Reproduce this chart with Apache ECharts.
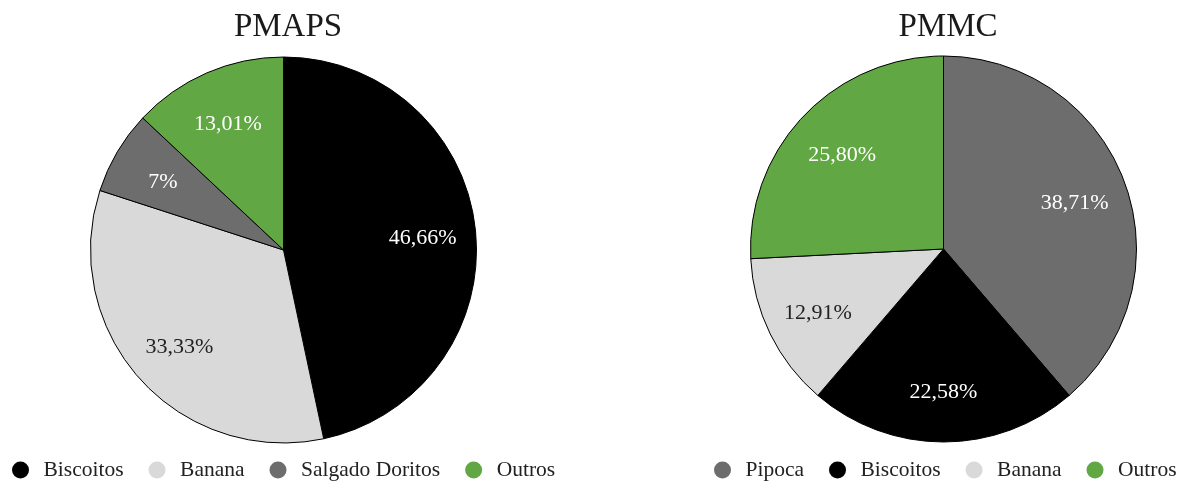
<!DOCTYPE html>
<html>
<head>
<meta charset="utf-8">
<style>
  html, body { margin: 0; padding: 0; background: #ffffff; }
  #chart { width: 1185px; height: 484px; }
</style>
<script src="https://cdn.jsdelivr.net/npm/echarts@6/dist/echarts.min.js"></script>
</head>
<body>
<div id="chart"></div>
<script>
// PMAPS
const pmapsCategories = ['Biscoitos', 'Banana', 'Salgado Doritos', 'Outros'];
const pmapsValues = [46.66, 33.33, 7, 13.01];
// PMMC
const pmmcCategories = ['Pipoca', 'Biscoitos', 'Banana', 'Outros'];
const pmmcValues = [38.71, 22.58, 12.91, 25.80];

const colorOf = {
  'Biscoitos': '#000000',
  'Banana': '#d9d9d9',
  'Salgado Doritos': '#6d6d6d',
  'Pipoca': '#6d6d6d',
  'Outros': '#61a743'
};
const labelColorOf = {
  'Biscoitos': '#ffffff',
  'Banana': '#222222',
  'Salgado Doritos': '#ffffff',
  'Pipoca': '#ffffff',
  'Outros': '#ffffff'
};

const FONT = 'Liberation Serif';

function fmt(v) {
  const s = Number.isInteger(v) ? String(v) : v.toFixed(2).replace('.', ',');
  return s + '%';
}

function slices(cats, vals) {
  return cats.map((c, i) => ({
    name: c,
    value: vals[i],
    itemStyle: { color: colorOf[c] }
  }));
}

function labelSlices(cats, vals) {
  return cats.map((c, i) => ({
    name: c,
    value: vals[i],
    label: { color: labelColorOf[c] }
  }));
}

function pieSeries(center, cats, vals) {
  return {
    type: 'pie',
    center: center,
    radius: 193,
    startAngle: 90,
    clockwise: true,
    silent: true,
    label: { show: false },
    labelLine: { show: false },
    itemStyle: { borderColor: '#000000', borderWidth: 1 },
    data: slices(cats, vals)
  };
}

// transparent ring that only carries the percentage labels
function labelSeries(center, cats, vals) {
  return {
    type: 'pie',
    center: center,
    radius: [96, 178],
    startAngle: 90,
    clockwise: true,
    silent: true,
    z: 5,
    itemStyle: { color: 'rgba(0,0,0,0)', borderWidth: 0 },
    label: {
      show: true,
      position: 'inside',
      fontFamily: FONT,
      fontSize: 22,
      formatter: p => fmt(p.value)
    },
    labelLayout: { dy: 3 },
    labelLine: { show: false },
    data: labelSlices(cats, vals)
  };
}

// wide icon box so the text sits further from the dot
const legendCommon = {
  orient: 'horizontal',
  top: 459,
  padding: 0,
  icon: 'circle',
  itemWidth: 36,
  itemHeight: 17,
  itemGap: 25,
  selectedMode: false,
  itemStyle: { borderWidth: 0 },
  textStyle: { fontFamily: FONT, fontSize: 21.5, color: '#222222' }
};

const chart = echarts.init(document.getElementById('chart'));
chart.setOption({
  backgroundColor: '#ffffff',
  animation: false,
  title: [
    { text: 'PMAPS', left: 283, top: 6, textAlign: 'center',
      textStyle: { fontFamily: FONT, fontSize: 33, fontWeight: 'normal', color: '#1a1a1a' } },
    { text: 'PMMC', left: 943, top: 6, textAlign: 'center',
      textStyle: { fontFamily: FONT, fontSize: 33, fontWeight: 'normal', color: '#1a1a1a' } }
  ],
  legend: [
    Object.assign({ left: 12, data: pmapsCategories }, legendCommon),
    Object.assign({ left: 714, data: pmmcCategories }, legendCommon)
  ],
  series: [
    pieSeries([283.5, 250], pmapsCategories, pmapsValues),
    pieSeries([943.5, 249], pmmcCategories, pmmcValues),
    labelSeries([283.5, 250], pmapsCategories, pmapsValues),
    labelSeries([943.5, 249], pmmcCategories, pmmcValues)
  ]
});
</script>
</body>
</html>
